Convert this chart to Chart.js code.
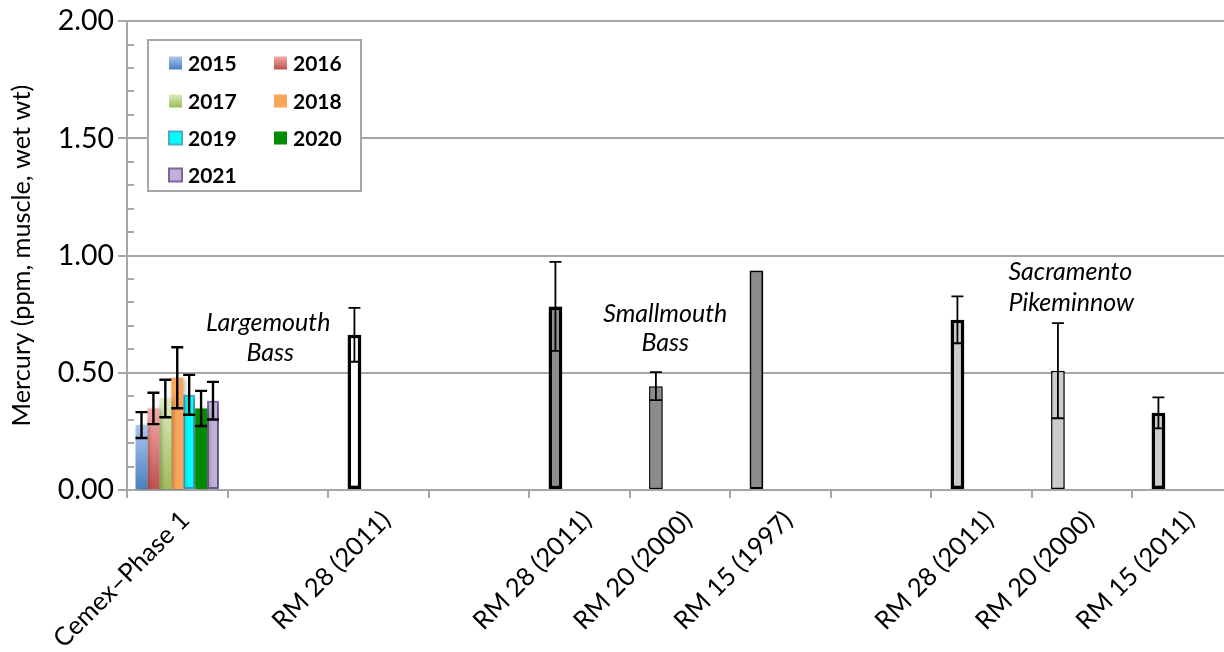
<!DOCTYPE html>
<html>
<head>
<meta charset="utf-8">
<script src="https://cdn.jsdelivr.net/npm/chart.js@4.4.1/dist/chart.umd.min.js"></script>
<style>
  html, body { margin: 0; padding: 0; background: #fff; overflow: hidden; }
  #wrap { width: 1240px; height: 652px; }
</style>
</head>
<body>
<div id="wrap"><canvas id="c" width="1240" height="652"></canvas></div>
<script>
// Category labels along the x axis (blank slots separate the species groups)
const categories = ['Cemex\u2013Phase 1', '', 'RM 28 (2011)', '', 'RM 28 (2011)', 'RM 20 (2000)', 'RM 15 (1997)', '', 'RM 28 (2011)', 'RM 20 (2000)', 'RM 15 (2011)'];

// Cemex Phase 1 yearly means and error half-widths
const years = ['2015', '2016', '2017', '2018', '2019', '2020', '2021'];
const cemexMeans = [0.277, 0.348, 0.390, 0.479, 0.406, 0.348, 0.381];
const cemexErr = [0.055, 0.067, 0.080, 0.130, 0.085, 0.075, 0.080];

// Comparison river-mile samples (largemouth, smallmouth, pikeminnow)
const siteMeans = [null, null, 0.662, null, 0.783, 0.443, 0.936, null, 0.726, 0.509, 0.329];
const siteErr = [null, null, 0.115, null, 0.190, 0.060, null, null, 0.100, 0.203, 0.066];

// Species group captions
const groupCaptions = [
  { text: 'Largemouth', x: 0.905, y: 0.711 },
  { text: 'Bass', x: 0.925, y: 0.583 },
  { text: 'Smallmouth', x: 4.856, y: 0.753 },
  { text: 'Bass', x: 4.856, y: 0.626 },
  { text: 'Sacramento', x: 8.886, y: 0.928 },
  { text: 'Pikeminnow', x: 8.896, y: 0.800 }
];

const yTicks = { min: 0, max: 2, minorStep: 0.1, majorStep: 0.5 };

const GRID = '#a6a6a6';
const FONT = 'Lato, "Open Sans", sans-serif';

function gradientFill(top, bottom) {
  return (c) => {
    const chart = c.chart;
    if (!chart.chartArea || c.dataIndex === undefined) return bottom;
    const v = c.dataset.data[c.dataIndex];
    if (v == null) return bottom;
    const ys = chart.scales.y;
    const g = chart.ctx.createLinearGradient(0, ys.getPixelForValue(v), 0, ys.getPixelForValue(0));
    g.addColorStop(0, top);
    g.addColorStop(1, bottom);
    return g;
  };
}

const yearStyles = [
  { bg: gradientFill('#aac6f0', '#4a7ebb'), swatch: ['#aac6f0', '#4a7ebb'], border: null },
  { bg: gradientFill('#f5aaa8', '#c0504d'), swatch: ['#f5aaa8', '#c0504d'], border: null },
  { bg: gradientFill('#dcedbd', '#9bbb59'), swatch: ['#dcedbd', '#9bbb59'], border: null },
  { bg: '#f9a55a', swatch: ['#f9a55a', '#f9a55a'], border: null },
  { bg: '#00ffff', swatch: ['#00ffff', '#00ffff'], border: '#4bacc6' },
  { bg: '#008c00', swatch: ['#008c00', '#008c00'], border: null },
  { bg: '#c0b2d6', swatch: ['#c0b2d6', '#c0b2d6'], border: '#7f63a1' }
];

const datasets = years.map((yr, i) => ({
  label: yr,
  data: categories.map((_, k) => (k === 0 ? cemexMeans[i] : null)),
  errors: categories.map((_, k) => (k === 0 ? cemexErr[i] : null)),
  errWidth: 2.4,
  backgroundColor: yearStyles[i].bg,
  borderColor: yearStyles[i].border || 'rgba(0,0,0,0)',
  borderWidth: yearStyles[i].border ? 2 : 0,
  borderSkipped: false,
  stack: 's' + yr,
  barPercentage: 1.0,
  categoryPercentage: 0.83,
  swatch: yearStyles[i].swatch,
  swatchBorder: yearStyles[i].border
}));

// comparison samples share the second slot of each category
const siteFill = ['', '', '#ffffff', '', '#8c8c8c', '#8c8c8c', '#8c8c8c', '', '#cccccc', '#cccccc', '#cccccc'];
const siteBorder = [0, 0, 3.5, 0, 3.5, 1.5, 2, 0, 3.5, 1.5, 3.5];
datasets.push({
  label: '',
  data: siteMeans,
  errors: siteErr,
  errWidth: 1.8,
  backgroundColor: siteFill,
  borderColor: '#000000',
  borderWidth: siteBorder,
  borderSkipped: false,
  stack: 's2016',
  barPercentage: 1.15,
  categoryPercentage: 0.83,
  legendHidden: true
});

const isMajor = (v) => Math.abs(v / yTicks.majorStep - Math.round(v / yTicks.majorStep)) < 1e-6;

const shadowPlugin = {
  id: 'barShadow',
  beforeDatasetsDraw(chart) {
    const ctx = chart.ctx;
    ctx.save();
    ctx.shadowColor = 'rgba(0,0,0,0.28)';
    ctx.shadowBlur = 4;
    ctx.shadowOffsetX = 2;
    ctx.shadowOffsetY = 1;
  },
  afterDatasetsDraw(chart) {
    chart.ctx.restore();
  }
};

const errorBarPlugin = {
  id: 'errorBars',
  afterDatasetsDraw(chart) {
    const ctx = chart.ctx;
    const ys = chart.scales.y;
    ctx.save();
    ctx.strokeStyle = '#000';
    chart.data.datasets.forEach((ds, di) => {
      if (!ds.errors) return;
      const meta = chart.getDatasetMeta(di);
      ds.errors.forEach((e, k) => {
        const v = ds.data[k];
        if (e == null || v == null) return;
        const el = meta.data[k];
        const x = el.x;
        const yt = ys.getPixelForValue(v + e);
        const yb = ys.getPixelForValue(v - e);
        const cap = 6;
        ctx.lineWidth = ds.errWidth;
        ctx.beginPath();
        ctx.moveTo(x, yt); ctx.lineTo(x, yb);
        ctx.moveTo(x - cap, yt); ctx.lineTo(x + cap, yt);
        ctx.moveTo(x - cap, yb); ctx.lineTo(x + cap, yb);
        ctx.stroke();
      });
    });
    ctx.restore();
  }
};

const minorTickPlugin = {
  id: 'minorTicks',
  afterDraw(chart) {
    const ctx = chart.ctx;
    const ys = chart.scales.y;
    const left = chart.chartArea.left;
    ctx.save();
    ctx.strokeStyle = GRID;
    ctx.lineWidth = 2;
    for (let v = yTicks.min; v <= yTicks.max + 1e-9; v += yTicks.minorStep) {
      if (isMajor(v)) continue;
      const y = Math.round(ys.getPixelForValue(v));
      ctx.beginPath();
      ctx.moveTo(left, y);
      ctx.lineTo(left + 7, y);
      ctx.stroke();
    }
    ctx.restore();
  }
};

const captionPlugin = {
  id: 'captions',
  afterDraw(chart) {
    const ctx = chart.ctx;
    const xs = chart.scales.x, ys = chart.scales.y;
    ctx.save();
    ctx.fillStyle = '#000';
    ctx.font = 'italic 25px ' + FONT;
    ctx.textAlign = 'center';
    ctx.textBaseline = 'middle';
    groupCaptions.forEach((c) => {
      ctx.fillText(c.text, xs.getPixelForValue(c.x), ys.getPixelForValue(c.y));
    });
    ctx.restore();
  }
};

const legendBoxPlugin = {
  id: 'legendBox',
  afterDraw(chart) {
    const ctx = chart.ctx;
    const box = { x: 148, y: 40, w: 213, h: 151 };
    ctx.save();
    ctx.fillStyle = '#ffffff';
    ctx.fillRect(box.x, box.y, box.w, box.h);
    ctx.strokeStyle = GRID;
    ctx.lineWidth = 2;
    ctx.strokeRect(box.x, box.y, box.w, box.h);
    const colX = [box.x + 21, box.x + 126];
    const rowY = [box.y + 23, box.y + 61, box.y + 98, box.y + 135];
    let n = 0;
    chart.data.datasets.forEach((ds) => {
      if (ds.legendHidden) return;
      const cx = colX[n % 2], cy = rowY[Math.floor(n / 2)];
      const s = 13;
      const g = ctx.createLinearGradient(0, cy - s / 2, 0, cy + s / 2);
      g.addColorStop(0, ds.swatch[0]);
      g.addColorStop(1, ds.swatch[1]);
      ctx.fillStyle = g;
      ctx.fillRect(cx, cy - s / 2, s, s);
      if (ds.swatchBorder) {
        ctx.strokeStyle = ds.swatchBorder;
        ctx.lineWidth = 2;
        ctx.strokeRect(cx, cy - s / 2, s, s);
      }
      ctx.fillStyle = '#000';
      ctx.font = 'bold 21px ' + FONT;
      ctx.textAlign = 'left';
      ctx.textBaseline = 'middle';
      ctx.fillText(ds.label, cx + 19, cy + 1);
      n++;
    });
    ctx.restore();
  }
};

new Chart(document.getElementById('c'), {
  type: 'bar',
  data: { labels: categories, datasets },
  plugins: [shadowPlugin, errorBarPlugin, minorTickPlugin, captionPlugin, legendBoxPlugin],
  options: {
    responsive: false,
    animation: false,
    events: [],
    layout: { padding: { left: 0, top: 20, right: 7.5, bottom: 0 } },
    plugins: { legend: { display: false }, tooltip: { enabled: false } },
    scales: {
      x: {
        type: 'category',
        offset: true,
        grid: { offset: true, drawOnChartArea: false, tickLength: 8, color: GRID, lineWidth: 2 },
        border: { color: GRID, width: 2 },
        ticks: {
          autoSkip: false, minRotation: 45, maxRotation: 45,
          color: '#000', font: { family: FONT, size: 25.5 }, padding: 7, labelOffset: 8
        },
        afterFit(scale) { scale.height = 162; }
      },
      y: {
        min: yTicks.min, max: yTicks.max,
        grid: {
          color: (c) => (isMajor(c.tick.value) ? GRID : 'rgba(0,0,0,0)'),
          lineWidth: 2, tickLength: 9
        },
        border: { color: GRID, width: 2 },
        ticks: {
          stepSize: yTicks.minorStep, autoSkip: false,
          color: '#000', font: { family: FONT, size: 28.5 }, padding: 4,
          callback: (v) => (isMajor(v) ? Number(v).toFixed(2) : '')
        },
        title: {
          display: true, text: 'Mercury (ppm, muscle, wet wt)',
          color: '#000', font: { family: FONT, size: 25.3 }, padding: { top: 7, bottom: 0 }
        },
        afterFit(scale) { scale.width = 127; }
      }
    }
  }
});
</script>
</body>
</html>
